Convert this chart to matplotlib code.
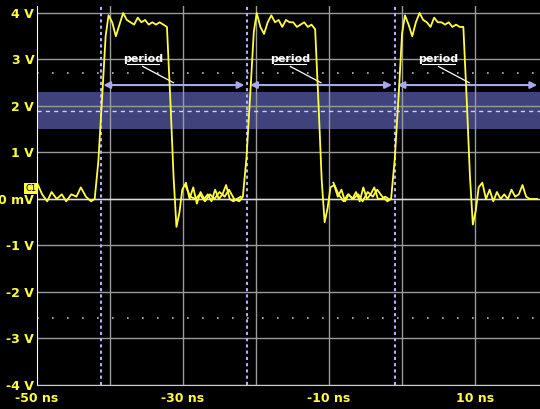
import matplotlib
matplotlib.use("Agg")
import matplotlib.pyplot as plt

# one cycle, times relative to cycle start (ns), voltages per cycle
t_rel = [0,0.7,1.4,2,2.7,3.4,4,4.7,5.4,6,6.7,7.4,7.9,8.4,9,9.4,9.8,10.3,10.8,11.3,11.8,12.3,12.8,
         13.3,13.8,14.3,14.8,15.3,15.8,16.3,16.8,17.3,17.8,18.3,18.7,19.1,19.5,19.9,20.4,20.9,21.4,
         21.9,22.4,22.9,23.4,23.9,24.4,24.9,25.4,25.9,26.4,26.9,27.4,27.9]
cycle_starts = [-50.0, -29.7, -9.4]
v1 = [0.35,0.1,-0.05,0.15,0.0,0.1,-0.05,0.1,0.05,0.25,0.05,-0.05,0.0,0.8,2.4,3.5,3.95,3.8,3.5,3.75,
      4.0,3.85,3.8,3.75,3.9,3.8,3.85,3.75,3.8,3.75,3.8,3.75,3.7,2.0,0.5,-0.6,-0.3,0.2,0.35,0.0,0.25,
      -0.1,0.15,0.0,0.1,-0.05,0.2,0.0,0.1,0.3,0.0,-0.05,0.0,0.05]
v2 = [0.3,0.05,0.0,0.1,-0.05,0.1,0.0,0.15,0.05,0.2,0.0,-0.05,0.05,0.9,2.5,3.6,4.0,3.7,3.55,3.8,
      3.95,3.8,3.85,3.7,3.85,3.8,3.8,3.7,3.75,3.8,3.7,3.75,3.65,1.9,0.4,-0.5,-0.2,0.25,0.3,0.05,0.2,
      -0.05,0.1,0.0,0.15,-0.05,0.25,0.0,0.1,0.25,0.0,0.0,0.05,0.0]
v3 = [0.35,0.1,-0.05,0.1,0.0,0.1,-0.05,0.15,0.05,0.2,0.05,-0.05,0.0,0.85,2.4,3.55,3.95,3.75,3.5,3.8,
      4.0,3.85,3.8,3.7,3.9,3.8,3.8,3.75,3.8,3.7,3.75,3.7,3.7,2.0,0.5,-0.55,-0.25,0.25,0.35,0.0,0.2,
      -0.05,0.15,0.0,0.1,0.0,0.2,0.05,0.1,0.3,0.05,0.0,0.0,0.0]
cursor_x = [-41.3, -21.2, -1.0]
band = (1.5, 2.3)
mid_level = 1.9
arrow_y = 2.45
dot_levels = [2.7, -2.55]
label_x = [-35.5, -15.3, 5.0]
yticks = [4,3,2,1,0,-1,-2,-3,-4]
ylabels = ["4 V","3 V","2 V","1 V","0 mV","-1 V","-2 V","-3 V","-4 V"]
xticks = [-50,-30,-10,10]
xlabels = ["-50 ns","-30 ns","-10 ns","10 ns"]

fig = plt.figure(figsize=(5.4,4.09), dpi=100, facecolor="black")
ax = fig.add_axes([37/540, 24/409, 1-37/540, 379/409], facecolor="black")
ax.set_xlim(-50, 18.9)
ax.set_ylim(-4, 4.15)
grid = "#9a9a9a"
for x in [-40,-30,-20,-10,0,10]:
    ax.axvline(x, color=grid, lw=1)
for y in yticks:
    ax.axhline(y, color=grid, lw=1)
ax.axhline(0, color="#dddddd", lw=1)
ax.axhspan(*band, color="#5a5fb0", alpha=0.7, lw=0)
ax.axhline(mid_level, color="#d0d0ff", lw=1, ls=(0,(3,3)))
for lvl in dot_levels:
    ax.axhline(lvl, color="#bbbbbb", lw=1.2, ls=(0,(1,8)))
for cx in cursor_x:
    ax.axvline(cx, color="#b0b0ff", lw=1.5, ls=(0,(1.5,1.5)))
for v, c in zip([v1,v2,v3], cycle_starts):
    ax.plot([c+t for t in t_rel], v, color="#ffff40", lw=1.3, zorder=5)
for i, lx in enumerate(label_x):
    x0 = cursor_x[i]
    x1 = cursor_x[i+1] if i+1 < len(cursor_x) else 18.9
    ax.annotate("", xy=(x0, arrow_y), xytext=(x1, arrow_y),
                arrowprops=dict(arrowstyle="<|-|>", color="#a8a8f0", lw=1.5), zorder=4)
    ax.text(lx, 2.95, "period", color="white", fontsize=8, fontweight="bold", ha="center")
    ax.plot([lx-2.2, lx+2.2], [2.9, 2.9], color="white", lw=0.8)
    ax.plot([lx, lx+4.2], [2.85, 2.5], color="white", lw=0.9)
ax.set_xticks(xticks, xlabels)
ax.set_yticks(yticks, ylabels)
ax.tick_params(colors="#ffff40", labelsize=9, length=0, pad=2)
ax.tick_params(axis="x", pad=5)
for lab in ax.get_xticklabels()+ax.get_yticklabels():
    lab.set_fontweight("bold")
for s in ["top","right"]:
    ax.spines[s].set_visible(False)
ax.spines["left"].set_color("white")
ax.spines["bottom"].set_color("#cccccc")
fig.text(25/540, (409-191)/409, "C1", color="black", fontsize=6,
         bbox=dict(facecolor="#ffff40", edgecolor="none", pad=1))
fig.savefig("out.png", facecolor="black")
